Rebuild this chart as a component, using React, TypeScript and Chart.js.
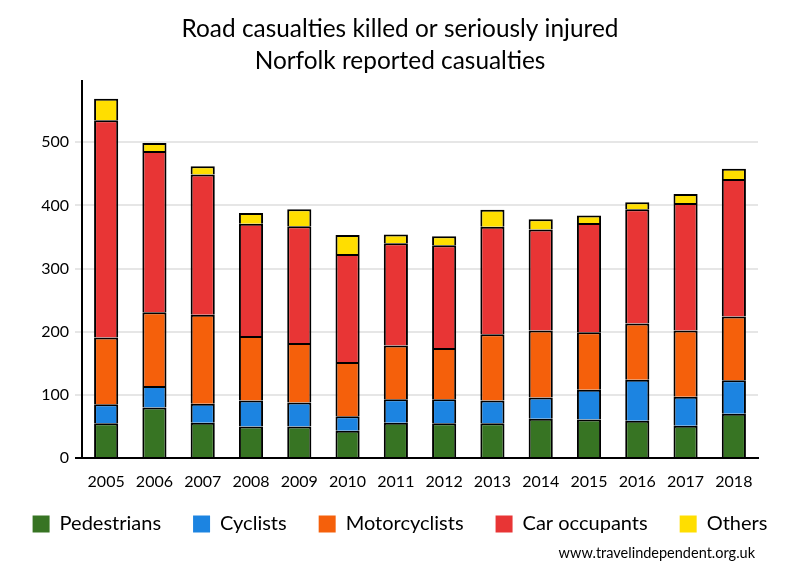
import React, { useEffect, useRef } from "react";
import { Chart, registerables } from "chart.js";

Chart.register(...registerables);

const years = ["2005", "2006", "2007", "2008", "2009", "2010", "2011", "2012", "2013", "2014", "2015", "2016", "2017", "2018"];
const pedestrians = [55, 80, 56, 50, 50, 43, 56, 55, 55, 62, 61, 59, 51, 70];
const cyclists = [30, 34, 30, 41, 38, 23, 37, 38, 36, 34, 47, 65, 46, 53];
const motorcyclists = [106, 117, 141, 102, 94, 86, 85, 81, 105, 106, 91, 89, 105, 101];
const carOccupants = [344, 255, 222, 178, 185, 171, 162, 163, 170, 160, 173, 181, 202, 218];
const others = [34, 13, 13, 17, 27, 30, 14, 14, 27, 16, 12, 11, 14, 16];
const yTickValues = [0, 100, 200, 300, 400, 500];

const titleLines = ["Road casualties killed or seriously injured", "Norfolk reported casualties"];
const footerText = "www.travelindependent.org.uk";

const FONT = "Lato, 'Open Sans', sans-serif";

const footerPlugin = {
  id: "footerText",
  afterDraw(chart: any) {
    const { ctx, chartArea } = chart;
    ctx.save();
    ctx.font = `14.5px ${FONT}`;
    ctx.fillStyle = "#000";
    ctx.textAlign = "right";
    ctx.textBaseline = "middle";
    ctx.fillText(footerText, chartArea.right - 3, chart.height - 27);
    ctx.restore();
  },
};

export default function App() {
  const ref = useRef<HTMLCanvasElement | null>(null);

  useEffect(() => {
    if (!ref.current) return;
    const mk = (label: string, data: number[], color: string) => ({
      label,
      data,
      backgroundColor: color,
      borderColor: "#000",
      borderWidth: 2,
      barPercentage: 0.5,
      categoryPercentage: 1,
    });
    const chart = new Chart(ref.current, {
      type: "bar",
      data: {
        labels: years,
        datasets: [
          mk("Pedestrians", pedestrians, "#377423"),
          mk("Cyclists", cyclists, "#1c84e1"),
          mk("Motorcyclists", motorcyclists, "#f5600b"),
          mk("Car occupants", carOccupants, "#e83535"),
          mk("Others", others, "#ffde00"),
        ],
      },
      plugins: [footerPlugin],
      options: {
        responsive: false,
        animation: false,
        layout: { padding: { left: 0, right: 0, top: 0, bottom: 36 } },
        plugins: {
          title: {
            display: true,
            text: titleLines,
            color: "#000",
            font: { family: FONT, size: 24.4, weight: "normal", lineHeight: 32 / 24.4 },
            padding: { top: 13, bottom: 4 },
          },
          legend: {
            position: "bottom",
            labels: {
              color: "#000",
              font: { family: FONT, size: 20 },
              boxWidth: 17,
              boxHeight: 17,
              padding: 32,
              generateLabels: (c: any) =>
                Chart.defaults.plugins.legend.labels
                  .generateLabels(c)
                  .map((l: any) => ({ ...l, lineWidth: 0, strokeStyle: "rgba(0,0,0,0)" })),
            },
          },
          tooltip: { enabled: false },
        },
        scales: {
          x: {
            stacked: true,
            grid: { display: false, drawTicks: false },
            border: { display: true, color: "#000", width: 2 },
            ticks: {
              color: "#000",
              font: { family: FONT, size: 16 },
              padding: -33.6,
              mirror: true,
              maxRotation: 0,
              autoSkip: false,
            },
            afterFit: (s: any) => {
              s.height = 24;
            },
          },
          y: {
            stacked: true,
            min: 0,
            max: 597,
            grid: {
              color: (c: any) => (c.tick && c.tick.value === 0 ? "#000" : "#e6e6e6"),
              lineWidth: 2,
              tickLength: 7,
            },
            border: { display: true, color: "#000", width: 2 },
            ticks: {
              color: "#000",
              font: { family: FONT, size: 16 },
              padding: 6,
              autoSkip: false,
            },
            afterBuildTicks: (s: any) => {
              s.ticks = yTickValues.map((v) => ({ value: v }));
            },
            afterFit: (s: any) => {
              s.width = 82;
            },
          },
          y2: {
            position: "right",
            display: true,
            grid: { display: false },
            border: { display: false },
            ticks: { display: false },
            afterFit: (s: any) => {
              s.width = 42;
            },
          },
        },
      },
    });
    return () => chart.destroy();
  }, []);

  return (
    <div style={{ position: "fixed", left: 0, top: 0, width: 800, height: 580, background: "#fff" }}>
      <canvas ref={ref} width={800} height={580} style={{ display: "block" }} />
    </div>
  );
}
